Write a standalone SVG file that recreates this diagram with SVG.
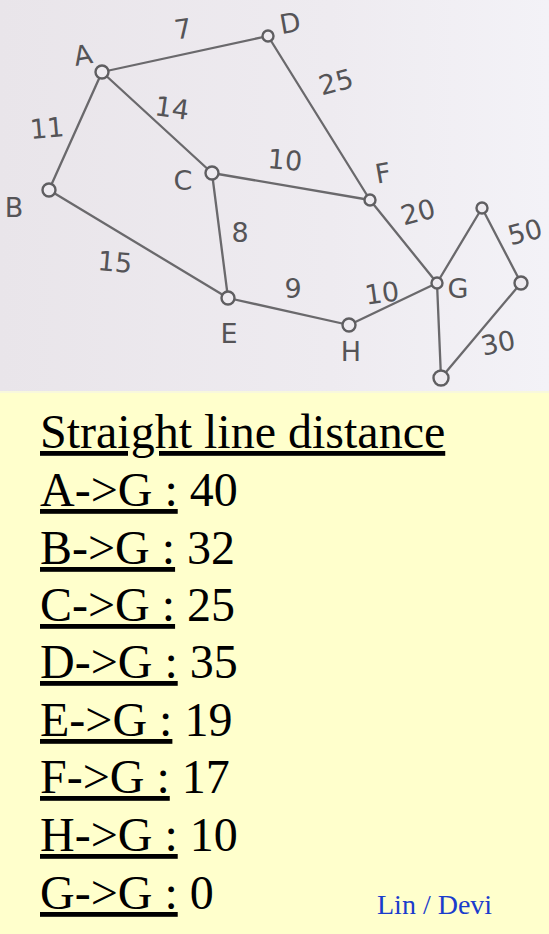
<svg xmlns="http://www.w3.org/2000/svg" width="549" height="934" viewBox="0 0 549 934">
<defs>
<linearGradient id="photo" x1="0" y1="0" x2="1" y2="0">
<stop offset="0" stop-color="#e9e5ea"/>
<stop offset="0.6" stop-color="#eeebf0"/>
<stop offset="1" stop-color="#f3f2f7"/>
</linearGradient>
<style>
.edge{stroke:#6a696c;stroke-width:2.3;fill:none;stroke-linecap:round}
.node{stroke:#5f5e61;stroke-width:2.4;fill:#eeebf0}
.hl{font-family:"DejaVu Sans",sans-serif;font-size:27px;fill:#555457;text-anchor:middle;dominant-baseline:central}
.t{font-family:"Liberation Serif","Times New Roman",serif;font-size:48px;fill:#000}
.u{text-decoration:underline}
.sig{font-family:"Liberation Serif","Times New Roman",serif;font-size:28px;fill:#1a3ccc}
</style>
</defs>
<rect x="0" y="0" width="549" height="934" fill="#ffffcc"/>
<rect x="0" y="0" width="549" height="391" fill="url(#photo)"/>
<rect x="0" y="391" width="549" height="2" fill="#f8f8dc"/>

<g id="connectors">
<line class="edge" x1="102" y1="72" x2="268" y2="36"/>
<line class="edge" x1="102" y1="72" x2="49" y2="190"/>
<line class="edge" x1="102" y1="72" x2="212" y2="173"/>
<line class="edge" x1="268" y1="36" x2="370" y2="200"/>
<line class="edge" x1="212" y1="173" x2="370" y2="200"/>
<line class="edge" x1="212" y1="173" x2="228" y2="298"/>
<line class="edge" x1="49" y1="190" x2="228" y2="298"/>
<line class="edge" x1="228" y1="298" x2="349" y2="325"/>
<line class="edge" x1="349" y1="325" x2="437" y2="283"/>
<line class="edge" x1="370" y1="200" x2="437" y2="283"/>
<line class="edge" x1="437" y1="283" x2="482" y2="208"/>
<line class="edge" x1="482" y1="208" x2="521" y2="283"/>
<line class="edge" x1="521" y1="283" x2="441" y2="378"/>
<line class="edge" x1="437" y1="283" x2="441" y2="378"/>
</g>

<g id="edge-labels">
<text class="hl" x="183" y="29" transform="rotate(-8 183 29)">7</text>
<text class="hl" x="47" y="128" transform="rotate(-5 47 128)">11</text>
<text class="hl" x="172" y="108" transform="rotate(8 172 108)">14</text>
<text class="hl" x="336" y="82" transform="rotate(-15 336 82)">25</text>
<text class="hl" x="285" y="160" transform="rotate(5 285 160)">10</text>
<text class="hl" x="240" y="232">8</text>
<text class="hl" x="115" y="262" transform="rotate(5 115 262)">15</text>
<text class="hl" x="293" y="288">9</text>
<text class="hl" x="382" y="293" transform="rotate(-8 382 293)">10</text>
<text class="hl" x="418" y="212" transform="rotate(-15 418 212)">20</text>
<text class="hl" x="525" y="232" transform="rotate(-15 525 232)">50</text>
<text class="hl" x="498" y="343" transform="rotate(-12 498 343)">30</text>
</g>

<g id="node-A"><circle class="node" cx="102" cy="72" r="6.5"/><text class="hl" x="83" y="55" transform="rotate(-10 83 55)">A</text></g>
<g id="node-D"><circle class="node" cx="268" cy="36" r="5.5"/><text class="hl" x="290" y="23" transform="rotate(-10 290 23)">D</text></g>
<g id="node-B"><circle class="node" cx="49" cy="190" r="6.5"/><text class="hl" x="14" y="207">B</text></g>
<g id="node-C"><circle class="node" cx="212" cy="173" r="6.5"/><text class="hl" x="183" y="180">C</text></g>
<g id="node-F"><circle class="node" cx="370" cy="200" r="5.5"/><text class="hl" x="383" y="173" transform="rotate(-10 383 173)">F</text></g>
<g id="node-E"><circle class="node" cx="228" cy="298" r="6.5"/><text class="hl" x="229" y="333">E</text></g>
<g id="node-H"><circle class="node" cx="349" cy="325" r="6.5"/><text class="hl" x="351" y="351">H</text></g>
<g id="node-G"><circle class="node" cx="437" cy="283" r="5.5"/><text class="hl" x="458" y="288">G</text></g>
<g id="node-top"><circle class="node" cx="482" cy="208" r="5.5"/></g>
<g id="node-right"><circle class="node" cx="521" cy="283" r="6.5"/></g>
<g id="node-bottom"><circle class="node" cx="441" cy="378" r="7.5"/></g>

<g id="table">
<text class="t" x="40" y="448"><tspan class="u">Straight line distance</tspan></text>
<text class="t" x="40" y="506"><tspan class="u">A-&gt;G :</tspan> 40</text>
<text class="t" x="40" y="564"><tspan class="u">B-&gt;G :</tspan> 32</text>
<text class="t" x="40" y="621"><tspan class="u">C-&gt;G :</tspan> 25</text>
<text class="t" x="40" y="678"><tspan class="u">D-&gt;G :</tspan> 35</text>
<text class="t" x="40" y="736"><tspan class="u">E-&gt;G :</tspan> 19</text>
<text class="t" x="40" y="793"><tspan class="u">F-&gt;G :</tspan> 17</text>
<text class="t" x="40" y="851"><tspan class="u">H-&gt;G :</tspan> 10</text>
<text class="t" x="40" y="909"><tspan class="u">G-&gt;G :</tspan> 0</text>
</g>
<text class="sig" x="377" y="914">Lin / Devi</text>
</svg>
